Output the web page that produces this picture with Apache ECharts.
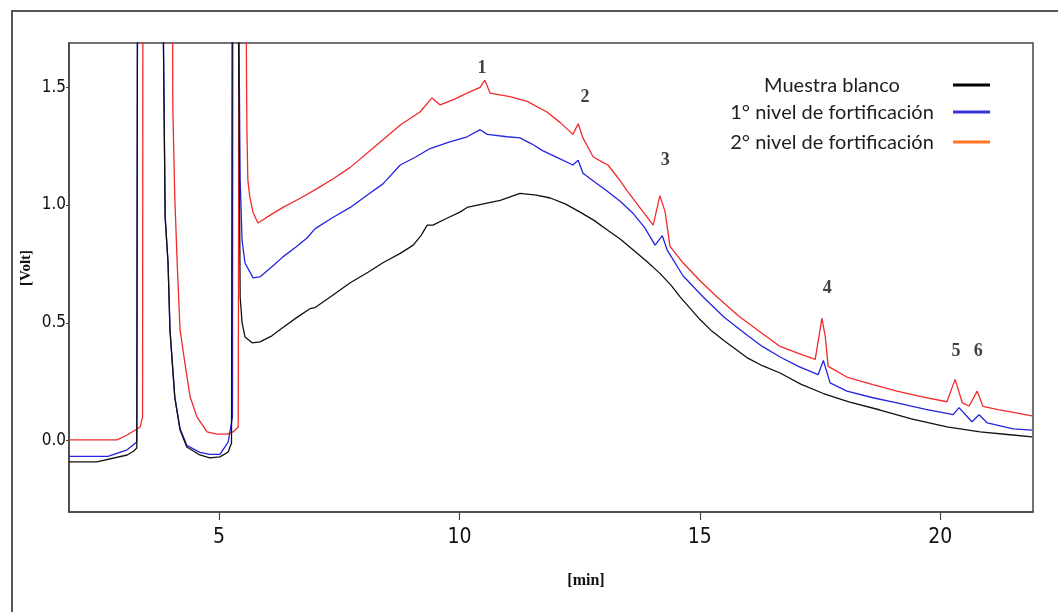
<!DOCTYPE html>
<html>
<head>
<meta charset="utf-8">
<script src="https://cdn.jsdelivr.net/npm/echarts@6/dist/echarts.min.js"></script>
<style>
  html, body { margin: 0; padding: 0; background: #ffffff; }
  #chart { width: 1058px; height: 612px; }
</style>
</head>
<body>
<div id="chart"></div>
<script>
// Chromatogram: detector signal [Volt] against retention time [min]
const seriesNames = ['Muestra blanco', '1° nivel de fortificación', '2° nivel de fortificación'];
const lineColors = ['#111111', '#2424e0', '#f22a2a'];
const legendColors = ['#000000', '#3636d6', '#ff7426'];

// [time (min), signal (V)] — blank sample
const blanco = [
  [1.88, -0.090], [2.46, -0.090], [2.50, -0.082], [3.09, -0.061], [3.22, -0.045], [3.29, -0.031],
  [3.31, 2.6], [3.80, 2.6], [3.88, 0.950], [3.94, 0.754], [3.98, 0.470], [4.08, 0.185],
  [4.19, 0.045], [4.33, -0.027], [4.60, -0.061], [4.81, -0.073], [5.02, -0.069], [5.19, -0.048],
  [5.26, -0.010], [5.28, 2.6], [5.38, 2.6], [5.44, 0.610], [5.48, 0.500], [5.54, 0.440],
  [5.69, 0.415], [5.85, 0.419], [6.10, 0.445], [6.33, 0.480], [6.60, 0.520], [6.89, 0.560],
  [7.00, 0.565], [7.35, 0.615], [7.73, 0.670], [8.10, 0.715], [8.41, 0.755], [8.77, 0.795],
  [9.04, 0.830], [9.20, 0.870], [9.33, 0.915], [9.45, 0.915], [9.75, 0.945], [10.01, 0.970],
  [10.16, 0.990], [10.50, 1.005], [10.85, 1.020], [11.26, 1.050], [11.60, 1.042], [11.89, 1.030],
  [12.20, 1.005], [12.51, 0.970], [12.80, 0.935], [13.07, 0.895], [13.35, 0.855], [13.61, 0.810],
  [13.90, 0.760], [14.17, 0.710], [14.40, 0.660], [14.59, 0.610], [15.00, 0.515], [15.25, 0.465],
  [15.50, 0.425], [16.00, 0.350], [16.30, 0.318], [16.67, 0.287], [17.10, 0.240], [17.57, 0.200],
  [18.10, 0.165], [18.75, 0.130], [19.40, 0.092], [20.14, 0.058], [20.83, 0.037], [21.40, 0.026],
  [21.91, 0.016]
];

// first fortification level
const nivel1 = [
  [1.88, -0.067], [2.69, -0.067], [3.09, -0.039], [3.29, -0.006],
  [3.31, 2.6], [3.80, 2.6], [3.88, 0.950], [3.94, 0.754], [3.98, 0.470], [4.08, 0.185],
  [4.19, 0.050], [4.33, -0.020], [4.60, -0.050], [4.81, -0.058], [5.02, -0.058], [5.19, -0.006],
  [5.28, 0.100], [5.29, 2.6], [5.38, 2.6], [5.44, 1.107], [5.48, 0.850], [5.54, 0.754],
  [5.71, 0.691], [5.85, 0.695], [6.10, 0.738], [6.33, 0.780], [6.60, 0.822], [6.83, 0.860],
  [7.00, 0.900], [7.35, 0.945], [7.73, 0.990], [8.10, 1.045], [8.41, 1.090], [8.77, 1.170],
  [9.10, 1.205], [9.39, 1.240], [9.80, 1.268], [10.16, 1.290], [10.43, 1.320], [10.58, 1.300],
  [10.99, 1.290], [11.26, 1.285], [11.50, 1.260], [11.74, 1.230], [12.05, 1.200], [12.36, 1.170],
  [12.47, 1.190], [12.57, 1.135], [12.80, 1.100], [13.07, 1.060], [13.35, 1.015], [13.61, 0.965],
  [13.85, 0.905], [14.07, 0.830], [14.22, 0.870], [14.32, 0.810], [14.65, 0.700], [15.07, 0.610],
  [15.50, 0.525], [16.00, 0.445], [16.30, 0.400], [16.67, 0.355], [17.05, 0.315], [17.46, 0.280],
  [17.57, 0.340], [17.71, 0.245], [18.06, 0.210], [18.60, 0.182], [19.10, 0.160], [19.70, 0.133],
  [20.27, 0.110], [20.39, 0.140], [20.66, 0.080], [20.81, 0.110], [20.98, 0.075], [21.52, 0.050],
  [21.91, 0.045]
];

// second fortification level
const nivel2 = [
  [1.88, 0.003], [2.88, 0.003], [3.09, 0.024], [3.36, 0.058], [3.41, 0.100],
  [3.42, 2.6], [4.02, 2.6], [4.04, 1.404], [4.08, 1.035], [4.13, 0.754], [4.19, 0.470],
  [4.29, 0.330], [4.40, 0.185], [4.54, 0.101], [4.75, 0.037], [4.96, 0.028], [5.17, 0.028],
  [5.29, 0.037], [5.40, 0.058], [5.42, 2.6], [5.54, 2.6], [5.58, 1.319], [5.60, 1.107],
  [5.64, 1.035], [5.71, 0.967], [5.81, 0.924], [6.05, 0.955], [6.33, 0.990], [6.70, 1.030],
  [7.04, 1.070], [7.40, 1.115], [7.73, 1.160], [8.25, 1.250], [8.77, 1.340], [9.18, 1.395],
  [9.43, 1.455], [9.60, 1.425], [9.90, 1.450], [10.16, 1.475], [10.43, 1.500], [10.53, 1.530],
  [10.64, 1.475], [11.05, 1.460], [11.41, 1.440], [11.82, 1.395], [12.10, 1.350], [12.36, 1.300],
  [12.47, 1.345], [12.57, 1.285], [12.78, 1.205], [12.99, 1.180], [13.09, 1.170], [13.30, 1.115],
  [13.49, 1.060], [13.75, 0.990], [14.03, 0.915], [14.17, 1.040], [14.28, 0.970], [14.38, 0.825],
  [14.65, 0.755], [15.00, 0.680], [15.36, 0.610], [15.80, 0.530], [16.20, 0.470], [16.67, 0.400],
  [17.05, 0.370], [17.40, 0.345], [17.54, 0.520], [17.61, 0.440], [17.67, 0.315], [18.06, 0.270],
  [18.60, 0.238], [19.10, 0.210], [19.60, 0.187], [20.14, 0.165], [20.31, 0.260], [20.46, 0.160],
  [20.60, 0.147], [20.77, 0.210], [20.89, 0.145], [21.20, 0.132], [21.52, 0.120], [21.91, 0.105]
];

// numbered analyte peaks: label anchor (time, signal)
const peakNames = ['1', '2', '3', '4', '5', '6'];
const peakTimes = [10.47, 12.61, 14.28, 17.65, 20.33, 20.79];
const peakLabelLevels = [1.582, 1.459, 1.191, 0.648, 0.377, 0.377];

const xTicks = [5, 10, 15, 20];
const yTicks = [0, 0.5, 1.0, 1.5];

const chart = echarts.init(document.getElementById('chart'));

const curves = [blanco, nivel1, nivel2];
const lineSeries = curves.map((d, i) => ({
  name: seriesNames[i],
  type: 'line',
  data: d,
  showSymbol: false,
  symbol: 'none',
  clip: true,
  animation: false,
  z: 5 - i,
  lineStyle: { color: lineColors[i], width: 1.3 },
  itemStyle: { color: legendColors[i] }
}));

const peakSeries = {
  type: 'scatter',
  data: peakTimes.map((t, i) => ({ value: [t, peakLabelLevels[i]], name: peakNames[i] })),
  symbolSize: 1,
  itemStyle: { color: 'transparent' },
  silent: true,
  animation: false,
  label: {
    show: true,
    position: 'inside',
    formatter: p => p.name,
    fontFamily: '"Liberation Serif", "Times New Roman", serif',
    fontWeight: 'bold',
    fontSize: 18,
    color: '#111'
  },
  z: 10
};

// legend: centred text column with a short coloured stroke on its right
const legendRows = [86, 113, 143];
const legendGraphics = [];
seriesNames.forEach((name, i) => {
  legendGraphics.push({
    type: 'text',
    x: 832, y: legendRows[i],
    style: {
      text: name,
      font: '20px Lato, "Open Sans", sans-serif',
      fill: '#1d1d24',
      textAlign: 'center',
      textVerticalAlign: 'middle'
    }
  });
  legendGraphics.push({
    type: 'line',
    shape: { x1: 953, y1: legendRows[i] - 1, x2: 990, y2: legendRows[i] - 1 },
    style: { stroke: legendColors[i], lineWidth: 3 }
  });
});

chart.setOption({
  backgroundColor: '#ffffff',
  animation: false,
  grid: {
    left: 69, top: 43, right: 25, bottom: 100,
    show: true, borderColor: '#444', borderWidth: 1.5, backgroundColor: 'transparent'
  },
  xAxis: {
    type: 'value',
    min: 1.88, max: 21.93,
    axisLine: { show: true, onZero: false, lineStyle: { color: '#444', width: 1.5 } },
    axisTick: { show: true, customValues: xTicks, length: 8, lineStyle: { color: '#444', width: 1.2 } },
    axisLabel: {
      customValues: xTicks,
      margin: 15,
      fontFamily: '"Liberation Sans Narrow", "DejaVu Sans Condensed", "Liberation Sans", sans-serif',
      fontSize: 21,
      color: '#111'
    },
    splitLine: { show: false }
  },
  yAxis: {
    type: 'value',
    min: -0.303, max: 1.688,
    axisLine: { show: true, onZero: false, lineStyle: { color: '#444', width: 1.5 } },
    axisTick: { show: true, customValues: yTicks, length: 3, lineStyle: { color: '#444' } },
    axisLabel: {
      customValues: yTicks,
      margin: 3,
      formatter: v => v.toFixed(1),
      fontFamily: '"Liberation Sans Narrow", "DejaVu Sans Condensed", "Liberation Sans", sans-serif',
      fontSize: 17,
      color: '#111'
    },
    splitLine: { show: false }
  },
  graphic: [
    {
      type: 'rect',
      shape: { x: 12, y: 11, width: 1200, height: 700 },
      style: { fill: 'none', stroke: '#555', lineWidth: 2 },
      silent: true
    },
    {
      type: 'text',
      x: 586, y: 581,
      style: {
        text: '[min]',
        font: 'bold 16px "Liberation Serif", "Times New Roman", serif',
        fill: '#111', textAlign: 'center', textVerticalAlign: 'middle'
      }
    },
    {
      type: 'text',
      x: 26, y: 268,
      rotation: Math.PI / 2,
      style: {
        text: '[Volt]',
        font: 'bold 15px "Liberation Serif", "Times New Roman", serif',
        fill: '#111', textAlign: 'center', textVerticalAlign: 'middle'
      }
    }
  ].concat(legendGraphics),
  series: [lineSeries[2], lineSeries[1], lineSeries[0], peakSeries]
});
</script>
</body>
</html>
